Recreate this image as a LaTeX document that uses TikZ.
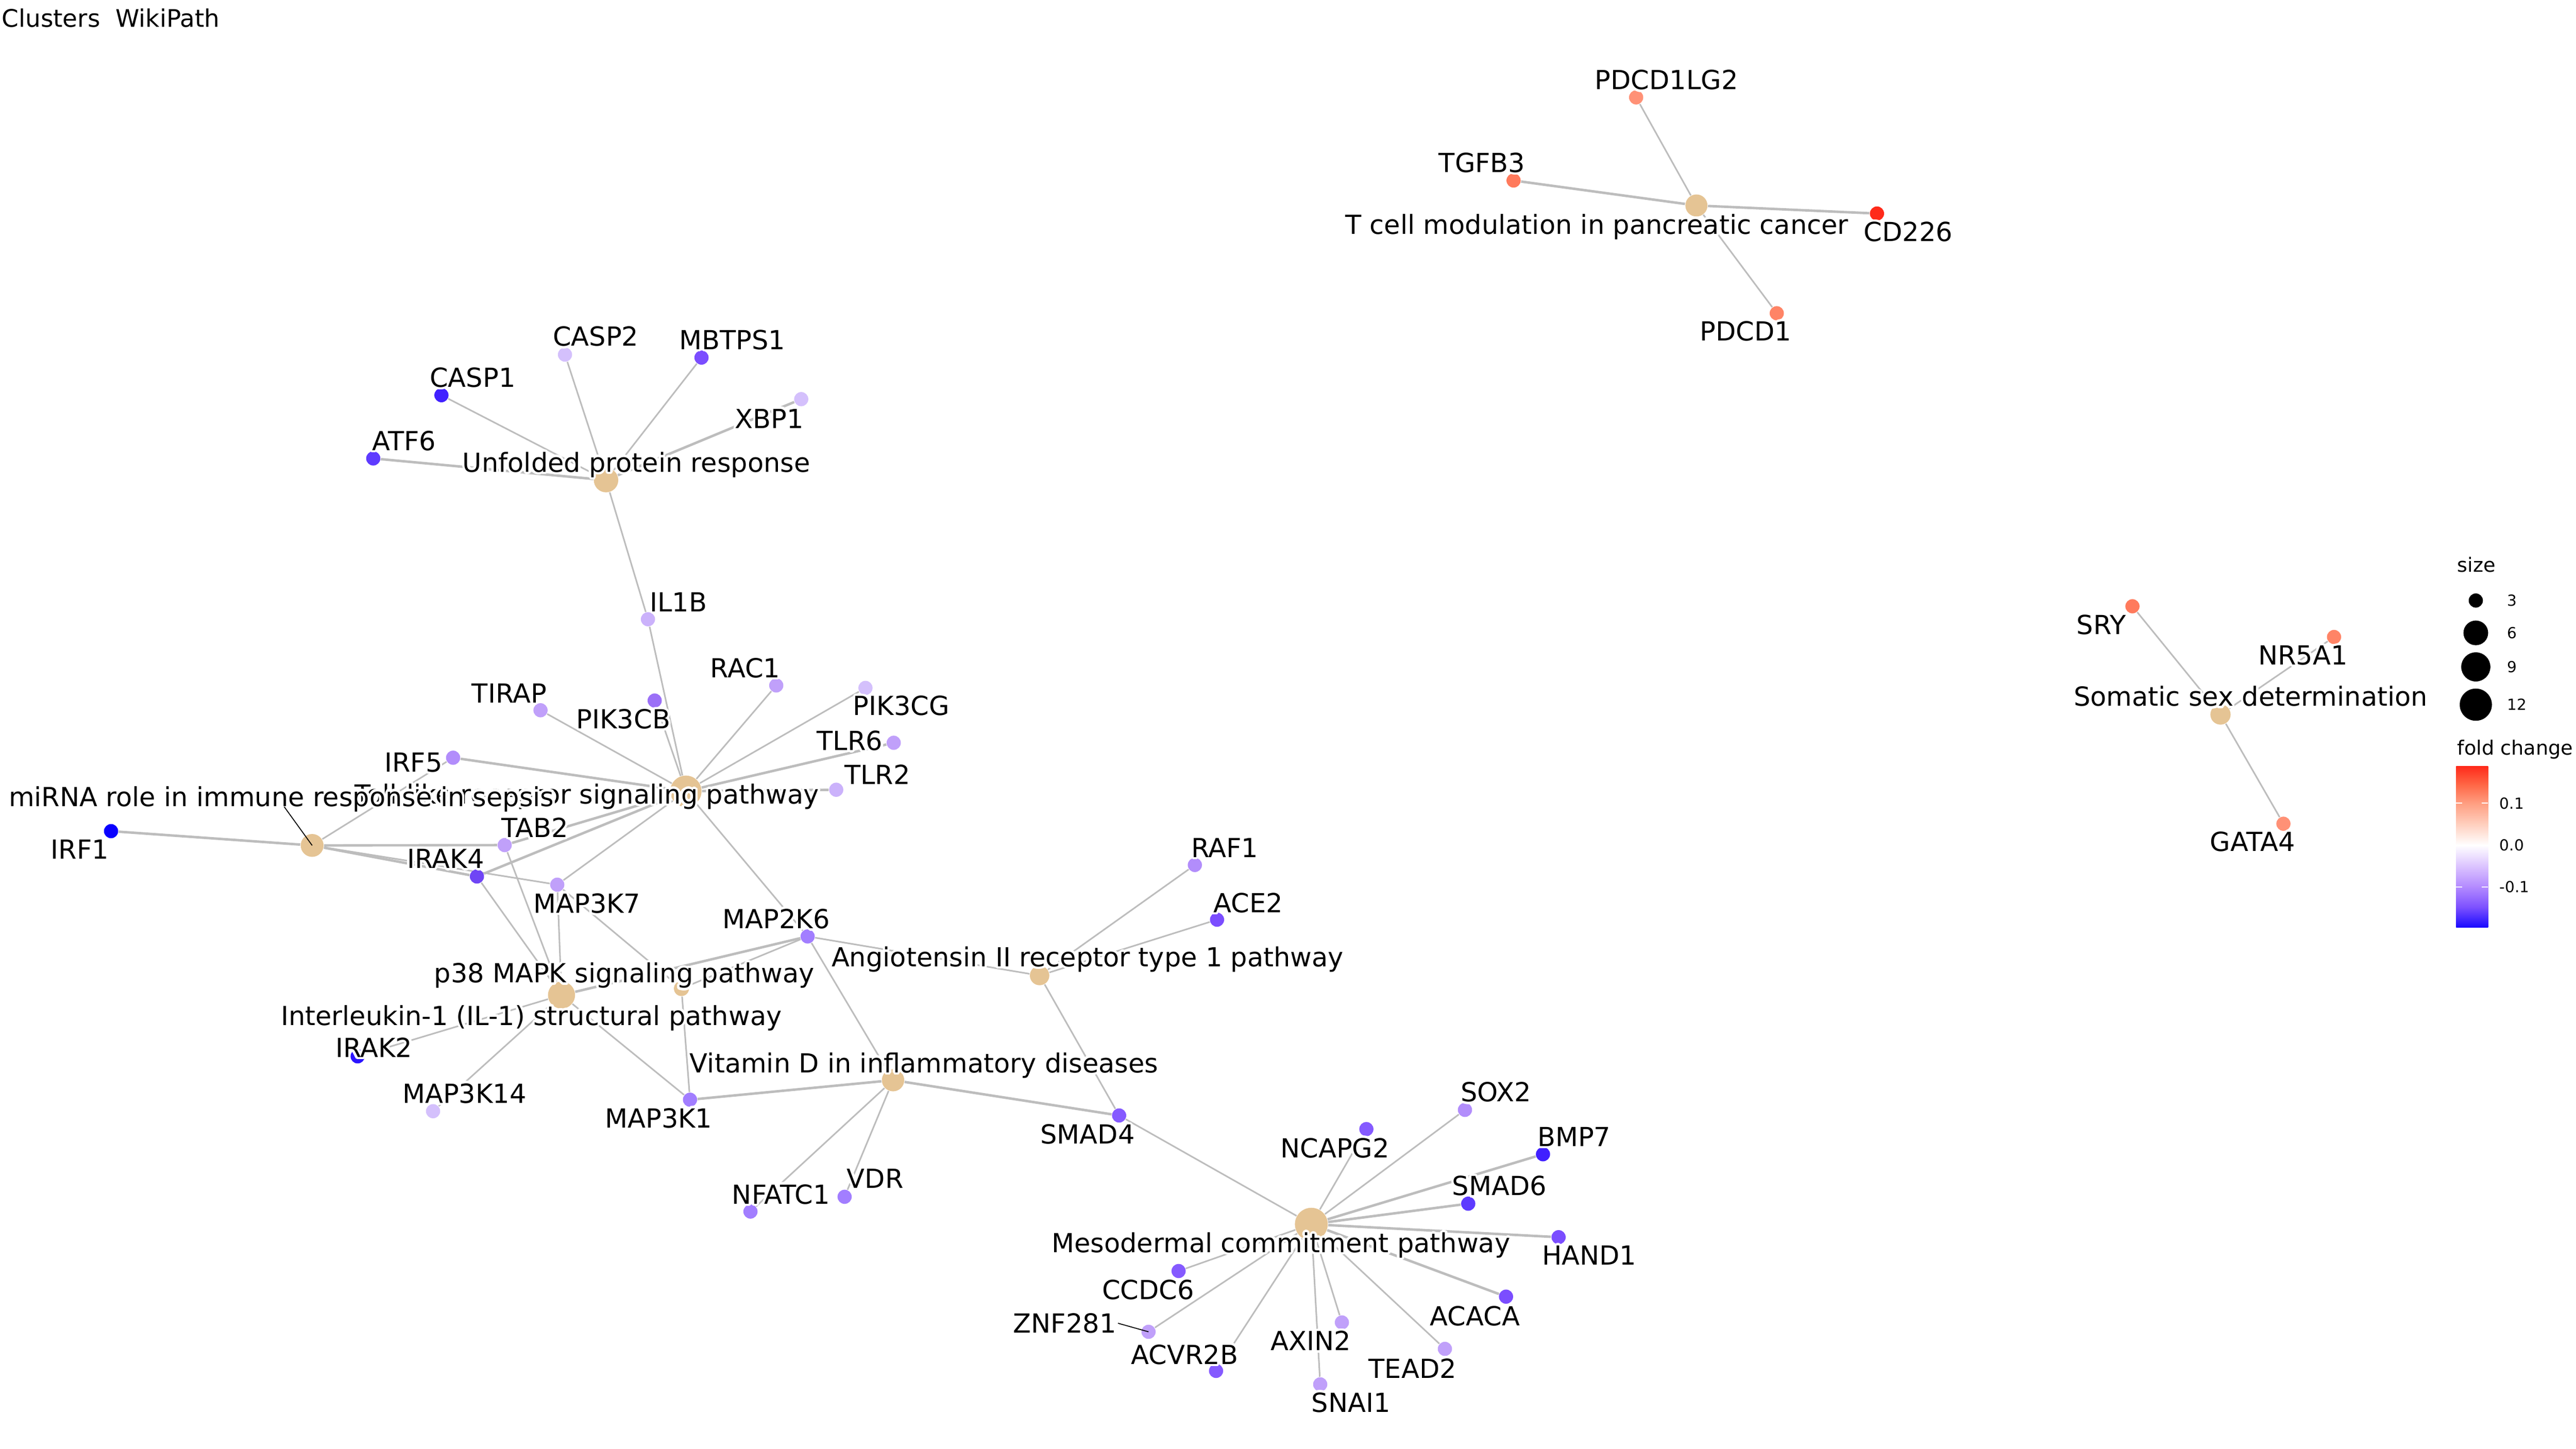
\documentclass[tikz,border=0pt]{standalone}
\usepackage{fontspec}
\setmainfont{DejaVu Sans}
\usepackage[copies]{contour}
\contourlength{0.9pt}
\contournumber{16}
\usetikzlibrary{positioning}
\pgfdeclarelayer{edges}
\pgfsetlayers{edges,main}

\definecolor{hubc}{HTML}{E5C494}
\definecolor{edgec}{HTML}{BDBDBD}
\definecolor{fcA}{HTML}{0A00FF}
\definecolor{fcB}{HTML}{2B14FF}
\definecolor{fcC}{HTML}{4020FF}
\definecolor{fcD}{HTML}{5E3BFF}
\definecolor{fcE}{HTML}{6F45F5}
\definecolor{fcF}{HTML}{7B4DFF}
\definecolor{fcG}{HTML}{855AFF}
\definecolor{fcH}{HTML}{9B70F7}
\definecolor{fcI}{HTML}{A27EFF}
\definecolor{fcJ}{HTML}{B28DFB}
\definecolor{fcK}{HTML}{C0A0FA}
\definecolor{fcL}{HTML}{CBB2FB}
\definecolor{fcM}{HTML}{D4C0FC}
\definecolor{fcR}{HTML}{FF2A1A}
\definecolor{fcS}{HTML}{FF7A5C}
\definecolor{fcT}{HTML}{FF8466}
\definecolor{fcU}{HTML}{FF9176}
\definecolor{barA}{HTML}{1A0AFF}
\definecolor{barB}{HTML}{7D51FF}
\definecolor{barC}{HTML}{B38AFF}
\definecolor{barD}{HTML}{DCC4FF}
\definecolor{barE}{HTML}{FFCFBE}
\definecolor{barF}{HTML}{FF9E81}
\definecolor{barG}{HTML}{FF6746}
\definecolor{barH}{HTML}{FF2A1A}
\pgfdeclareverticalshading{fcbar}{100bp}{color(0bp)=(barA); color(25bp)=(barA);
  color(31.25bp)=(barB); color(37.5bp)=(barC); color(44bp)=(barD);
  color(50.5bp)=(white); color(57bp)=(barE); color(63.5bp)=(barF);
  color(69.25bp)=(barG); color(75bp)=(barH); color(100bp)=(barH)}

\newcommand{\lab}[1]{\contour{white}{#1}}

\begin{document}
\begin{tikzpicture}[x=0.625pt, y=-0.625pt,
    gene/.style={circle, inner sep=0pt, minimum size=5.4pt},
    hub/.style={circle, fill=hubc, inner sep=0pt},
    lbl/.style={inner sep=0pt, text height=7.29pt, text depth=0pt, font=\fontsize{10}{12}\selectfont},
    link/.style={draw=edgec, line width=0.6pt},
    wide/.style={draw=edgec, line width=0.95pt},
    seg/.style={draw=black, line width=0.35pt},
    key/.style={inner sep=0pt, font=\fontsize{7.5}{9}\selectfont, anchor=base west},
    keynum/.style={inner sep=0pt, text height=4.2pt, text depth=0pt, font=\fontsize{5.8}{7}\selectfont, anchor=west},
    keydot/.style={circle, fill=black, inner sep=0pt}]

\useasboundingbox (0,0) rectangle (1568,882);

\node[anchor=base west, inner sep=0pt, font=\fontsize{9.2}{11}\selectfont] (title) at (0.8,16.5) {Clusters\ \ WikiPath};

% pathways
\node[hub, minimum size=9.3pt] (UPR) at (368.9,292.3) {};
\node[hub, minimum size=11.9pt] (Toll) at (417.5,481.7) {};
\node[hub, minimum size=8.7pt] (miRNA) at (190,514.7) {};
\node[hub, minimum size=10.3pt] (p38) at (341.8,605.8) {};
\node[hub, minimum size=5.75pt] (IL1p) at (414.8,601.8) {};
\node[hub, minimum size=7.4pt] (AngII) at (632.8,593.9) {};
\node[hub, minimum size=8.5pt] (VitD) at (543.6,657.6) {};
\node[hub, minimum size=12.5pt] (Meso) at (798.2,745.3) {};
\node[hub, minimum size=8.4pt] (Tcell) at (1032.6,125.1) {};
\node[hub, minimum size=7.7pt] (Sex) at (1351.6,435) {};

% genes
\node[gene, fill=fcM] (CASP2) at (343.9,215.9) {};
\node[gene, fill=fcF] (MBTPS1) at (427,217.7) {};
\node[gene, fill=fcC] (CASP1) at (268.7,240.6) {};
\node[gene, fill=fcM] (XBP1) at (487.7,243) {};
\node[gene, fill=fcD] (ATF6) at (227.2,279.1) {};
\node[gene, fill=fcL] (IL1B) at (394.4,377) {};
\node[gene, fill=fcK] (TIRAP) at (329,432.4) {};
\node[gene, fill=fcH] (PIK3CB) at (398.5,426.5) {};
\node[gene, fill=fcK] (RAC1) at (472.5,417.3) {};
\node[gene, fill=fcM] (PIK3CG) at (526.8,418.8) {};
\node[gene, fill=fcK] (TLR6) at (544,452.2) {};
\node[gene, fill=fcL] (TLR2) at (509,480.8) {};
\node[gene, fill=fcJ] (IRF5) at (275.8,461.3) {};
\node[gene, fill=fcA] (IRF1) at (67.6,506) {};
\node[gene, fill=fcK] (TAB2) at (307.2,514.5) {};
\node[gene, fill=fcE] (IRAK4) at (290.3,533.6) {};
\node[gene, fill=fcK] (MAP3K7) at (339.2,538.6) {};
\node[gene, fill=fcI] (MAP2K6) at (491.6,570.1) {};
\node[gene, fill=fcB] (IRAK2) at (217.7,643.1) {};
\node[gene, fill=fcM] (MAP3K14) at (263.6,676.5) {};
\node[gene, fill=fcI] (MAP3K1) at (420,669.5) {};
\node[gene, fill=fcJ] (RAF1) at (727.3,526.6) {};
\node[gene, fill=fcF] (ACE2) at (740.8,559.9) {};
\node[gene, fill=fcG] (SMAD4) at (681.2,679.1) {};
\node[gene, fill=fcI] (NFATC1) at (456.8,737.6) {};
\node[gene, fill=fcI] (VDR) at (514.1,728.6) {};
\node[gene, fill=fcG] (NCAPG2) at (831.7,687.4) {};
\node[gene, fill=fcJ] (SOX2) at (891.7,675.7) {};
\node[gene, fill=fcC] (BMP7) at (939.2,702.7) {};
\node[gene, fill=fcD] (SMAD6) at (893.7,732.8) {};
\node[gene, fill=fcF] (HAND1) at (948.7,753.2) {};
\node[gene, fill=fcF] (ACACA) at (916.7,789.4) {};
\node[gene, fill=fcK] (TEAD2) at (879.5,821.2) {};
\node[gene, fill=fcK] (SNAI1) at (803.6,842.8) {};
\node[gene, fill=fcK] (AXIN2) at (816.8,805.1) {};
\node[gene, fill=fcG] (ACVR2B) at (740.2,834.6) {};
\node[gene, fill=fcK] (ZNF281) at (699.1,810.8) {};
\node[gene, fill=fcG] (CCDC6) at (717.4,773.8) {};
\node[gene, fill=fcU] (PDCD1LG2) at (995.9,59.3) {};
\node[gene, fill=fcS] (TGFB3) at (921.3,109.9) {};
\node[gene, fill=fcR] (CD226) at (1142.5,130) {};
\node[gene, fill=fcT] (PDCD1) at (1081.5,190.7) {};
\node[gene, fill=fcS] (SRY) at (1298,369.1) {};
\node[gene, fill=fcT] (NR5A1) at (1420.7,387.8) {};
\node[gene, fill=fcU] (GATA4) at (1389.9,501.5) {};

\begin{pgfonlayer}{edges}
\draw[link] (UPR) -- (CASP1) (UPR) -- (CASP2) (UPR) -- (MBTPS1) (UPR) -- (IL1B);
\draw[wide] (UPR) -- (ATF6) (UPR) -- (XBP1);
\draw[link] (Toll) -- (IL1B) (Toll) -- (PIK3CB) (Toll) -- (RAC1) (Toll) -- (PIK3CG);
\draw[link] (Toll) -- (TIRAP) (Toll) -- (MAP3K7) (Toll) -- (MAP2K6);
\draw[wide] (Toll) -- (TLR6) (Toll) -- (TLR2) (Toll) -- (IRF5) (Toll) -- (TAB2) (Toll) -- (IRAK4);
\draw[wide] (miRNA) -- (IRF1) (miRNA) -- (TAB2) (miRNA) -- (IRAK4);
\draw[link] (miRNA) -- (IRF5) (miRNA) -- (MAP3K7);
\draw[link] (p38) -- (IRAK4) (p38) -- (TAB2) (p38) -- (MAP3K7) (p38) -- (IRAK2);
\draw[link] (p38) -- (MAP3K14) (p38) -- (MAP3K1);
\draw[wide] (p38) -- (MAP2K6);
\draw[link] (IL1p) -- (MAP3K7) (IL1p) -- (MAP2K6) (IL1p) -- (MAP3K1);
\draw[link] (AngII) -- (RAF1) (AngII) -- (ACE2) (AngII) -- (MAP2K6) (AngII) -- (SMAD4);
\draw[link] (VitD) -- (MAP2K6) (VitD) -- (NFATC1) (VitD) -- (VDR);
\draw[wide] (VitD) -- (MAP3K1) (VitD) -- (SMAD4);
\draw[link] (Meso) -- (SMAD4) (Meso) -- (NCAPG2) (Meso) -- (SOX2) (Meso) -- (TEAD2);
\draw[link] (Meso) -- (SNAI1) (Meso) -- (AXIN2) (Meso) -- (ACVR2B) (Meso) -- (ZNF281) (Meso) -- (CCDC6);
\draw[wide] (Meso) -- (BMP7) (Meso) -- (SMAD6) (Meso) -- (HAND1) (Meso) -- (ACACA);
\draw[link] (Tcell) -- (PDCD1LG2) (Tcell) -- (PDCD1);
\draw[wide] (Tcell) -- (TGFB3) (Tcell) -- (CD226);
\draw[link] (Sex) -- (SRY) (Sex) -- (NR5A1) (Sex) -- (GATA4);
\end{pgfonlayer}

% labels
\node[lbl] (CASP2t) at (362.6,204.8) {\lab{CASP2}};
\node[lbl] (MBTPS1t) at (445.7,206.9) {\lab{MBTPS1}};
\node[lbl] (CASP1t) at (287.7,229.8) {\lab{CASP1}};
\node[lbl] (XBP1t) at (468.3,254.8) {\lab{XBP1}};
\node[lbl] (ATF6t) at (245.9,268.3) {\lab{ATF6}};
\node[lbl] (UPRt) at (387.4,281.5) {\lab{Unfolded protein response}};
\node[lbl] (IL1Bt) at (413,366.6) {\lab{IL1B}};
\node[lbl] (TIRAPt) at (310,422) {\lab{TIRAP}};
\node[lbl] (PIK3CBt) at (379.4,437.8) {\lab{PIK3CB}};
\node[lbl] (RAC1t) at (453.6,406.6) {\lab{RAC1}};
\node[lbl] (PIK3CGt) at (548.6,429.7) {\lab{PIK3CG}};
\node[lbl] (TLR6t) at (517.3,450.9) {\lab{TLR6}};
\node[lbl] (TLR2t) at (534.1,471.5) {\lab{TLR2}};
\node[lbl] (IRF5t) at (251.7,464) {\lab{IRF5}};
\node[lbl] (Tollt) at (357.3,483.5) {\lab{Toll-like receptor signaling pathway}};
\node[lbl] (miRNAt) at (171.3,485) {\lab{miRNA role in immune response in sepsis}};
\node[lbl] (IRF1t) at (48.5,517) {\lab{IRF1}};
\node[lbl] (TAB2t) at (325.6,504) {\lab{TAB2}};
\node[lbl] (IRAK4t) at (271.2,522.8) {\lab{IRAK4}};
\node[lbl] (MAP3K7t) at (357.3,549.9) {\lab{MAP3K7}};
\node[lbl] (MAP2K6t) at (472.5,559.4) {\lab{MAP2K6}};
\node[lbl] (p38t) at (380,592.5) {\lab{p38 MAPK signaling pathway}};
\node[lbl] (IL1pt) at (323.4,618.3) {\lab{Interleukin-1 (IL-1) structural pathway}};
\node[lbl] (IRAK2t) at (227.6,637.7) {\lab{IRAK2}};
\node[lbl] (MAP3K14t) at (282.7,665.6) {\lab{MAP3K14}};
\node[lbl] (MAP3K1t) at (400.9,680.7) {\lab{MAP3K1}};
\node[lbl] (RAF1t) at (745.5,516.1) {\lab{RAF1}};
\node[lbl] (ACE2t) at (759.7,549.6) {\lab{ACE2}};
\node[lbl] (AngIIt) at (662,582.6) {\lab{Angiotensin II receptor type 1 pathway}};
\node[lbl] (VitDt) at (562.5,647.1) {\lab{Vitamin D in inflammatory diseases}};
\node[lbl] (SMAD4t) at (662,690.6) {\lab{SMAD4}};
\node[lbl] (NCAPG2t) at (812.6,698.9) {\lab{NCAPG2}};
\node[lbl] (NFATC1t) at (475.4,727.1) {\lab{NFATC1}};
\node[lbl] (VDRt) at (532.7,717.6) {\lab{VDR}};
\node[lbl] (SOX2t) at (910.5,664.8) {\lab{SOX2}};
\node[lbl] (BMP7t) at (958.1,692) {\lab{BMP7}};
\node[lbl] (SMAD6t) at (912.7,722) {\lab{SMAD6}};
\node[lbl] (HAND1t) at (967.4,764.2) {\lab{HAND1}};
\node[lbl] (Mesot) at (779.7,756.6) {\lab{Mesodermal commitment pathway}};
\node[lbl] (CCDC6t) at (698.9,785.1) {\lab{CCDC6}};
\node[lbl] (ZNF281t) at (648.1,805.6) {\lab{ZNF281}};
\node[lbl] (ACVR2Bt) at (721.1,824.6) {\lab{ACVR2B}};
\node[lbl] (AXIN2t) at (797.8,816.4) {\lab{AXIN2}};
\node[lbl] (SNAI1t) at (822.3,853.9) {\lab{SNAI1}};
\node[lbl] (TEAD2t) at (859.8,833.2) {\lab{TEAD2}};
\node[lbl] (ACACAt) at (897.8,801.1) {\lab{ACACA}};
\node[lbl] (PDCD1LG2t) at (1014.4,48.7) {\lab{PDCD1LG2}};
\node[lbl] (TGFB3t) at (902.1,99) {\lab{TGFB3}};
\node[lbl] (Tcellt) at (972,136.6) {\lab{T cell modulation in pancreatic cancer}};
\node[lbl] (CD226t) at (1161.5,141.2) {\lab{CD226}};
\node[lbl] (PDCD1t) at (1062.5,201.6) {\lab{PDCD1}};
\node[lbl] (SRYt) at (1279,380.4) {\lab{SRY}};
\node[lbl] (NR5A1t) at (1401.8,398.9) {\lab{NR5A1}};
\node[lbl] (Sext) at (1370,424.1) {\lab{Somatic sex determination}};
\node[lbl] (GATA4t) at (1371.1,512.4) {\lab{GATA4}};

% label segments
\draw[seg] (miRNAt.south -| 173,0) -- (miRNA.center);
\draw[seg] (ZNF281t.east) ++(0.8,0) -- (ZNF281.center);

% legend: size
\node[key] (sizet) at (1495.4,348.3) {size};
\node[keydot, minimum size=5.4pt] (k3) at (1507,365.6) {};
\node[keydot, minimum size=9.4pt] (k6) at (1507,385.3) {};
\node[keydot, minimum size=11.1pt] (k9) at (1507,406) {};
\node[keydot, minimum size=12.25pt] (k12) at (1507,429) {};
\node[keynum] (k3t) at (1525.7,365.6) {3};
\node[keynum] (k6t) at (1525.7,385.3) {6};
\node[keynum] (k9t) at (1525.7,406) {9};
\node[keynum] (k12t) at (1525.7,429) {12};

% legend: fold change
\node[key] (fct) at (1495.4,459.7) {fold change};
\shade[shading=fcbar] (1495,466.5) rectangle (1514.5,564.5);
\foreach \y in {489,514.5,540} {
  \draw[white, line width=0.4pt] (1495,\y) -- ++(3.8,0);
  \draw[white, line width=0.4pt] (1514.5,\y) -- ++(-3.8,0);
}
\node[keynum] (fc1) at (1521.2,489) {0.1};
\node[keynum] (fc0) at (1521.2,514.5) {0.0};
\node[keynum] (fcm) at (1521.2,540) {-0.1};
\end{tikzpicture}
\end{document}
